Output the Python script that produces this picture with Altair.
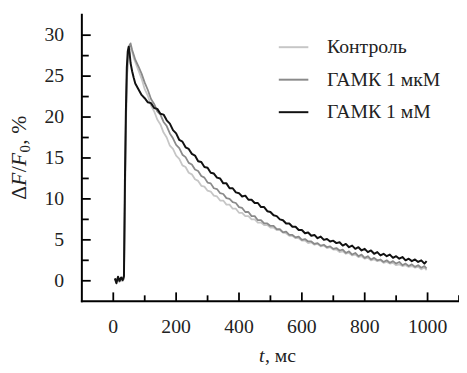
import altair as alt
import pandas as pd

# ---- data ----
t_early = [5, 10, 15, 20, 25, 30, 34, 37, 40, 43, 46, 49, 52, 55, 60, 65, 70]
t_late = [80, 90, 100, 110, 120, 130, 140, 150, 160, 170, 180, 190, 200, 210, 220, 230, 240,
          250, 260, 270, 280, 290, 300, 310, 320, 330, 340, 350, 360, 370, 380, 390, 400,
          410, 420, 430, 440, 450, 460, 470, 480, 490, 500, 510, 520, 530, 540, 550, 560,
          570, 580, 590, 600, 610, 620, 630, 640, 650, 660, 670, 680, 690, 700, 710, 720,
          730, 740, 750, 760, 770, 780, 790, 800, 810, 820, 830, 840, 850, 860, 870, 880,
          890, 900, 910, 920, 930, 940, 950, 960, 970, 980, 990, 997]
t_ms = t_early + t_late

control = [0.1, 0.2, -0.1, 0.2, 0.0, 0.3, 0.2, 9.0, 18.0, 24.0, 26.8, 27.8, 28.4, 28.6, 28.0, 27.2, 26.7,
           25.7, 24.7, 23.4, 22.6, 21.4, 20.7, 19.7, 19.1, 18.1, 17.5, 16.5, 16.1, 15.3, 14.9, 14.1, 13.9, 13.2,
           13.0, 12.4, 12.2, 11.6, 11.5, 11.0, 10.9, 10.4, 10.3, 9.8, 9.8, 9.3, 9.3, 8.8, 8.8, 8.3,
           8.3, 7.9, 7.9, 7.5, 7.5, 7.1, 7.1, 6.8, 6.8, 6.5, 6.5, 6.2, 6.2, 5.9, 5.8, 5.5,
           5.5, 5.2, 5.2, 4.9, 4.9, 4.6, 4.7, 4.4, 4.5, 4.2, 4.3, 4.0, 4.1, 3.8, 3.8, 3.5,
           3.6, 3.3, 3.4, 3.1, 3.2, 2.9, 3.0, 2.7, 2.8, 2.5, 2.6, 2.4, 2.5, 2.2, 2.3, 2.1,
           2.2, 1.9, 2.0, 1.8, 1.9, 1.7, 1.8, 1.6, 1.7, 1.4, 1.6, 1.3]

gaba_1um = [0.2, 0.0, 0.3, -0.1, 0.3, 0.0, 0.4, 10.0, 19.0, 24.5, 27.0, 28.2, 28.8, 29.0, 28.2, 27.6, 27.0,
            26.2, 25.3, 24.2, 23.3, 22.2, 21.6, 20.7, 20.3, 19.4, 18.9, 18.0, 17.4, 16.6, 16.2, 15.4, 15.1, 14.4,
            14.2, 13.6, 13.4, 12.8, 12.6, 12.0, 11.9, 11.3, 11.2, 10.7, 10.6, 10.1, 10.0, 9.6, 9.5, 9.0,
            8.9, 8.4, 8.4, 7.9, 7.9, 7.4, 7.4, 7.0, 7.0, 6.7, 6.7, 6.3, 6.3, 5.9, 6.0, 5.6,
            5.6, 5.3, 5.4, 5.0, 5.1, 4.8, 4.8, 4.5, 4.6, 4.3, 4.4, 4.1, 4.2, 3.9, 4.0, 3.7,
            3.8, 3.4, 3.6, 3.2, 3.4, 3.0, 3.2, 2.8, 3.0, 2.6, 2.8, 2.5, 2.6, 2.3, 2.5, 2.2,
            2.4, 2.1, 2.3, 1.9, 2.1, 1.8, 2.0, 1.7, 1.9, 1.6, 1.8, 1.5]

gaba_1mm = [0.3, -0.3, 0.5, 0.0, 0.4, 0.1, 0.6, 12.0, 20.5, 26.0, 28.0, 28.6, 27.8, 26.6, 25.6, 24.8, 24.1,
            23.4, 22.7, 22.3, 21.8, 21.7, 21.1, 21.0, 20.4, 20.3, 19.6, 19.2, 18.4, 18.0, 17.2, 17.0, 16.3, 16.1,
            15.5, 15.3, 14.6, 14.5, 13.9, 13.8, 13.2, 13.1, 12.6, 12.5, 11.9, 11.9, 11.3, 11.3, 10.8, 10.7,
            10.3, 10.4, 9.9, 9.9, 9.5, 9.5, 9.0, 9.0, 8.5, 8.4, 8.0, 7.9, 7.5, 7.4, 7.0, 7.0,
            6.6, 6.6, 6.2, 6.2, 5.8, 5.9, 5.5, 5.6, 5.2, 5.4, 5.0, 5.1, 4.8, 4.9, 4.6, 4.7,
            4.3, 4.5, 4.1, 4.3, 3.9, 4.1, 3.7, 3.9, 3.5, 3.7, 3.3, 3.5, 3.1, 3.3, 3.0, 3.2,
            2.8, 3.0, 2.7, 2.9, 2.5, 2.7, 2.4, 2.6, 2.3, 2.5, 2.1, 2.4]

series_names = ["Контроль", "ГАМК 1 мкМ", "ГАМК 1 мМ"]
series_colors = ["#c6c6c6", "#8a8a8a", "#111111"]
series_widths = [1.8, 1.8, 2.0]

x_major = [0, 200, 400, 600, 800, 1000]
x_minor = [100, 300, 500, 700, 900, 1100]
y_major = [0, 5, 10, 15, 20, 25, 30]
y_minor = [2.5, 7.5, 12.5, 17.5, 22.5, 27.5]
x_domain = [-100, 1100]
y_domain = [-2.5, 32.5]
x_title = "t, мс"

# ---- build tables ----
rows = []
for name, vals in zip(series_names, [control, gaba_1um, gaba_1mm]):
    n = min(len(t_ms), len(vals))
    for i in range(n):
        rows.append({"t": t_ms[i], "v": vals[i], "s": name})
df = pd.DataFrame(rows)

W, H = 383, 291
FONT = "Liberation Serif, DejaVu Serif, serif"
INK = "black"
TXT = "#222222"

xscale = alt.Scale(domain=x_domain, nice=False, zero=False)
yscale = alt.Scale(domain=y_domain, nice=False, zero=False)
cscale = alt.Scale(domain=series_names, range=series_colors)

px_x = (x_domain[1] - x_domain[0]) / W
px_y = (y_domain[1] - y_domain[0]) / H

seg = []
seg += [{"id": "ydom", "t": x_domain[0], "v": y_domain[0]}, {"id": "ydom", "t": x_domain[0], "v": y_domain[1]}]
seg += [{"id": "xdom", "t": x_domain[0], "v": y_domain[0]}, {"id": "xdom", "t": x_domain[1], "v": y_domain[0]}]
tick = []
for v in y_major:
    tick += [{"id": f"yM{v}", "t": x_domain[0], "v": v}, {"id": f"yM{v}", "t": x_domain[0] + 9 * px_x, "v": v}]
for v in y_minor:
    tick += [{"id": f"ym{v}", "t": x_domain[0], "v": v}, {"id": f"ym{v}", "t": x_domain[0] + 7 * px_x, "v": v}]
for t in x_major:
    tick += [{"id": f"xM{t}", "t": t, "v": y_domain[0]}, {"id": f"xM{t}", "t": t, "v": y_domain[0] + 9 * px_y}]
for t in x_minor:
    tick += [{"id": f"xm{t}", "t": t, "v": y_domain[0]}, {"id": f"xm{t}", "t": t, "v": y_domain[0] + 6 * px_y}]

legend = alt.Legend(title=None, orient="none", legendX=199, legendY=17,
                    symbolType="stroke", symbolSize=900, symbolStrokeWidth=2,
                    labelOffset=18, rowPadding=7, padding=0,
                    labelFont="Liberation Serif", labelFontSize=20, labelColor=TXT)

frame = alt.Chart(pd.DataFrame(seg)).mark_line(strokeWidth=2, strokeCap="square").encode(
    x=alt.X("t:Q", scale=xscale, axis=None), y=alt.Y("v:Q", scale=yscale, axis=None),
    detail="id:N", color=alt.value(INK))
ticks = alt.Chart(pd.DataFrame(tick)).mark_line(strokeWidth=1.8).encode(
    x=alt.X("t:Q", scale=xscale, axis=None), y=alt.Y("v:Q", scale=yscale, axis=None),
    detail="id:N", color=alt.value(INK))

layers = []
for name, sw in zip(series_names, series_widths):
    layers.append(
        alt.Chart(df).transform_filter(alt.datum.s == name)
        .mark_line(strokeWidth=sw, strokeJoin="round").encode(
            x=alt.X("t:Q", scale=xscale, axis=None),
            y=alt.Y("v:Q", scale=yscale, axis=None),
            color=alt.Color("s:N", scale=cscale, legend=legend),
        )
    )

one = alt.Data(values=[{"k": 1}])
ydf_major = pd.DataFrame({"v": y_major, "lab": [str(v) for v in y_major]})
xdf_major = pd.DataFrame({"t": x_major, "lab": [str(v) for v in x_major]})

ylabels = alt.Chart(ydf_major).mark_text(
    font=FONT, fontSize=20, color=TXT, align="right", baseline="middle").encode(
    y=alt.Y("v:Q", scale=yscale, axis=None), x=alt.value(-18), text="lab:N")
xlabels = alt.Chart(xdf_major).mark_text(
    font=FONT, fontSize=20, color=TXT, align="center", baseline="top").encode(
    x=alt.X("t:Q", scale=xscale, axis=None), y=alt.value(H + 16), text="lab:N")

xt_it = alt.Chart(one).mark_text(font=FONT, fontSize=20, color=TXT, fontStyle="italic",
                                 align="left", baseline="alphabetic").encode(
    x=alt.value(180), y=alt.value(353), text=alt.value(x_title[:1]))
xt_rest = alt.Chart(one).mark_text(font=FONT, fontSize=20, color=TXT,
                                   align="left", baseline="alphabetic").encode(
    x=alt.value(186), y=alt.value(353), text=alt.value(x_title[1:]))

def ypiece(txt, ypos, italic=False, size=22, xb=-57):
    kw = dict(font=FONT, fontSize=size, color=TXT, angle=270, align="left", baseline="alphabetic")
    if italic:
        kw["fontStyle"] = "italic"
    return alt.Chart(one).mark_text(**kw).encode(
        x=alt.value(xb), y=alt.value(ypos), text=alt.value(txt))

yt_parts = [
    ypiece("Δ", 188),
    ypiece("F", 174, italic=True),
    ypiece("/", 160),
    ypiece("F", 154, italic=True),
    ypiece("0", 140, size=15, xb=-53),
    ypiece(", %", 132),
]

chart = alt.layer(
    frame, ticks, *layers, ylabels, xlabels, xt_it, xt_rest, *yt_parts
).properties(
    width=W, height=H,
    autosize=alt.AutoSizeParams(type="none"),
    padding={"left": 75, "top": 4, "right": 0, "bottom": 66},
    background="white",
).configure_view(stroke=None)

chart.save("out.html", embed_options={"renderer": "svg", "actions": False})
